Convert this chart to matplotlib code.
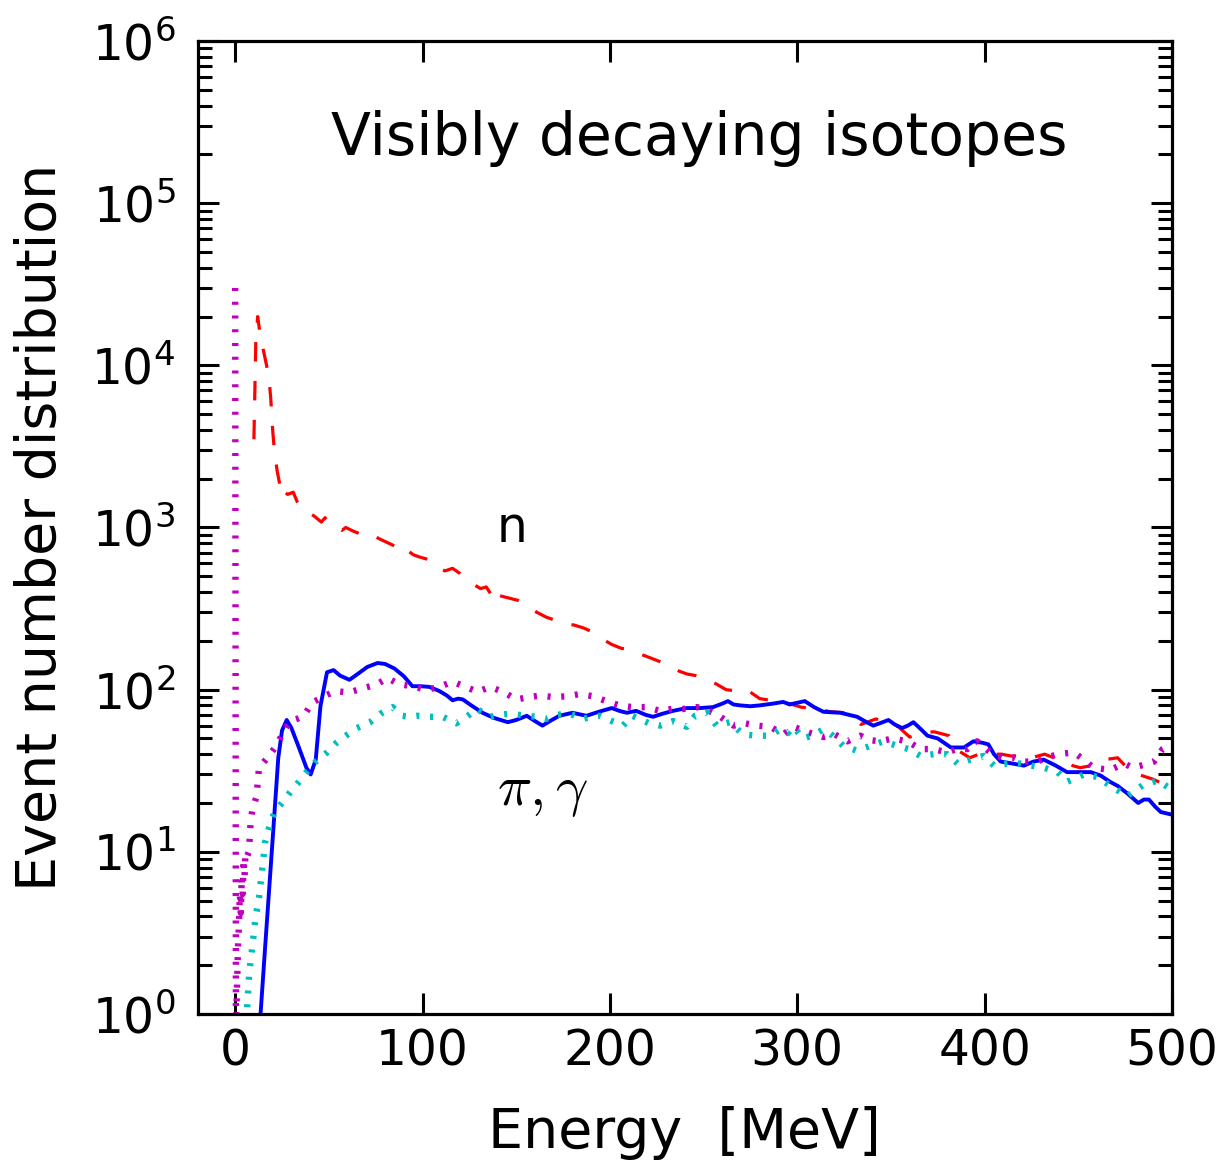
import numpy as np
import matplotlib
matplotlib.use("Agg")
import matplotlib.pyplot as plt
from matplotlib.ticker import LogLocator, NullFormatter, FixedLocator

plt.rcParams['lines.scale_dashes'] = False
plt.rcParams['font.family'] = ['DejaVu Sans']

# ---------------- data ----------------
neutron_E = [10, 11, 12, 13.5, 16, 18, 19, 20, 21, 22.5, 24, 25.5, 26.5, 28, 31, 33, 35,
             38, 42, 44, 46, 48, 50, 55, 57, 59, 63, 68, 71, 73, 78, 82, 86, 88, 90, 95,
             98, 102, 106, 109, 112, 116, 120, 124, 128, 131, 134, 137, 139, 141, 145,
             151, 156, 161, 166, 172, 177, 181, 186, 191, 196, 201, 206, 212, 216, 221,
             226, 232, 237, 241, 246, 252, 257, 262, 268, 273, 277, 280, 286, 292, 296,
             302, 310, 318, 326, 334, 342, 348, 354, 360, 366, 373, 381, 386, 389, 392,
             397, 403, 409, 414, 420, 425, 432, 437, 442, 447, 451, 457, 464, 471, 476,
             482, 490, 496, 500]
neutron_N = [3500, 14000, 20000, 15000, 11000, 8500, 6200, 4000, 2900, 2200, 1800, 1550,
             1650, 1600, 1650, 1450, 1330, 1250, 1180, 1130, 1080, 1150, 1060, 1000, 960,
             1000, 950, 900, 880, 900, 840, 800, 760, 720, 750, 680, 660, 640, 610, 560,
             540, 560, 520, 470, 440, 420, 430, 380, 420, 380, 370, 355, 330, 300, 280,
             265, 255, 250, 240, 226, 205, 190, 180, 175, 166, 158, 150, 140, 130, 125,
             122, 116, 108, 100, 98, 100, 93, 88, 86, 83, 82, 78, 76, 73, 72, 61, 66, 62,
             59, 51, 54, 55, 52, 42, 40, 38, 40, 40, 40, 39, 39, 38, 40, 38, 36, 34, 33,
             34, 37, 38, 33, 30, 28, 26, 23]

pion_E = [12, 16, 20, 23, 25, 27.5, 30, 34, 38, 40.3, 43, 45.5, 49, 52.5, 56, 61, 65,
          70.5, 76, 80, 85, 90, 94.6, 99, 103.7, 109, 113, 116, 119, 121.5, 126, 132,
          138, 145.5, 150, 155.6, 160, 164, 168, 173, 180, 187.5, 194, 201, 205, 209,
          214, 219, 223, 228, 233.7, 241, 248, 255, 260, 263, 266, 269.5, 275, 280,
          287, 292.5, 296, 300, 304, 309, 314, 323, 332, 337, 340.6, 344, 348.7, 352,
          356, 359, 362, 366, 369.5, 375, 382, 389, 394, 399, 402, 405, 408.6, 415,
          421, 426, 431.6, 438, 444, 451, 456.7, 462, 467, 471, 476, 482, 485, 487.7,
          491, 494, 499.5]
pion_N = [0.55, 2.6, 12, 38, 56, 65, 58, 44, 33, 30, 37, 79, 128, 132, 122, 115, 124,
          138, 146, 144, 135, 121, 105, 105, 104, 98, 92, 86, 88, 87, 80, 72, 67, 63,
          65, 69, 64, 60, 64, 69, 72, 69, 73, 77, 74, 72, 74, 70, 68, 71, 74, 77, 77,
          78, 82, 85, 81, 80, 79, 80, 82, 84, 81, 83, 85, 78, 73, 72, 68, 63, 60, 62,
          65, 61, 58, 60, 63, 57, 52, 50, 44, 44, 48, 47, 46, 40, 36, 35, 34, 36, 37,
          34, 31, 31, 31, 29.5, 27, 25.5, 23, 20, 21, 21, 19, 17.6, 17]

gamma_E = [6.4, 7.5, 9, 10.7, 12.8, 14.4, 16, 18, 21, 25, 29.4, 34, 38, 43, 49, 54, 58,
           65, 72, 77.5, 84, 89, 93, 97, 103.7, 110.7, 118, 123.5, 129, 136, 141, 146.5,
           151, 155.6, 161, 166, 172, 178.6, 185.6, 190, 194.7, 201, 207, 212, 217, 221,
           226.7, 233.7, 241, 245.5, 251.8, 257, 264, 271, 278.6, 285.6, 291, 295, 298,
           303, 308, 314, 319, 324.6, 332, 339, 346, 353.5, 359.4, 365.8, 372.7, 380,
           385.6, 392.5, 399.5, 405, 412, 419, 425, 431.6, 439, 444, 453, 460, 467, 476,
           485, 492.5, 498, 500]
gamma_N = [1.1, 1.8, 2.5, 3.8, 5.3, 7.8, 11.5, 14, 17.6, 20, 23.4, 27, 31, 36, 41, 47,
           51, 58, 63, 71, 78, 69, 68, 69, 68, 68, 62, 68, 76, 68, 70, 71, 70, 69, 68, 66,
           70, 71, 66, 68, 69, 64, 60, 69, 65, 62, 60, 64, 59, 69, 72, 60, 63, 53, 52,
           52, 57, 54, 59, 50, 52, 57, 52, 45, 42, 45, 48, 45, 43, 39, 40, 40, 35, 37, 39,
           34, 35, 35, 34, 33, 31, 27, 30, 29, 25.6, 22, 26, 27.5, 25, 23]

other_E = [0, 0.4, 1, 1.5, 2, 2.5, 3, 3.5, 4, 4.5, 5, 5.5, 6.5, 7.3, 7.8, 8.2, 9.1,
           11.4, 12.7, 18, 22.5, 26, 29.4, 33, 36.7, 41, 47.4, 53.5, 60.8, 68, 75, 81.3,
           87.5, 94.7, 101.6, 108, 116, 122, 129.5, 136, 143, 150, 157, 163, 169.6, 177,
           184, 191, 198, 205, 212, 219.6, 226.7, 233, 239, 246.5, 252, 259, 266, 272,
           278.6, 285.6, 292.6, 298, 307, 314, 320, 326.7, 333.7, 338, 344, 351, 358.8,
           365.8, 372.7, 380, 385, 390.8, 396, 403, 410, 416, 421, 428, 433, 439, 447.6,
           453, 458, 467, 474.5, 479, 483.4, 490.4, 495, 500]
other_N = [30000, 0.8, 1.5, 2.6, 3.5, 5.5, 4.2, 7, 5.5, 9, 7, 10, 9.5, 10, 12.4, 15, 18,
           22, 33, 39, 46, 56, 64, 66, 69, 83, 91, 98, 96, 102, 107, 118, 108, 105, 100,
           103, 112, 105, 97, 104, 97, 87, 90, 92, 90, 91, 94, 91, 85, 80, 78, 78, 74, 76,
           76, 78, 75, 68, 60, 62, 60, 59, 53, 59, 54, 51, 53, 48, 52, 49, 48, 50, 48, 43,
           43, 41, 43, 43, 48, 41, 38, 38, 36, 36, 38, 40, 41, 37, 33, 32, 35, 33, 34, 36,
           43, 46]

x_ticks = [0, 100, 200, 300, 400, 500]

# ---------------- figure ----------------
fig = plt.figure(figsize=(12.25, 11.66), dpi=100)
ax = fig.add_axes([0.1614, 0.1304, 0.7953, 0.8344])

ax.plot(neutron_E, neutron_N, color='r', lw=2.3, dashes=(14, 14), solid_joinstyle='round')
ax.plot(pion_E, pion_N, color='b', lw=2.8, solid_joinstyle='round')
ax.plot(other_E, other_N, color='m', lw=4.6, dashes=(2.2, 7.7))
ax.plot(gamma_E, gamma_N, color='c', lw=4.6, dashes=(2.2, 7.7))

ax.set_yscale('log')
ax.set_xlim(-20, 500)
ax.set_ylim(1, 1e6)
ax.xaxis.set_major_locator(FixedLocator(x_ticks))
ax.yaxis.set_major_locator(LogLocator(base=10, numticks=20))
ax.yaxis.set_minor_locator(LogLocator(base=10, subs=np.arange(2, 10), numticks=20))
ax.yaxis.set_minor_formatter(NullFormatter())

ax.tick_params(which='both', direction='in', top=True, right=True, width=2.2,
               labelsize=35)
ax.tick_params(which='major', length=15)
ax.tick_params(which='minor', length=10)
ax.tick_params(axis='x', which='major', pad=10)
ax.tick_params(axis='y', which='major', pad=16)
for s in ax.spines.values():
    s.set_linewidth(2.3)

ax.set_xlabel('Energy  [MeV]', fontsize=40, labelpad=22)
ax.set_ylabel('Event number distribution', fontsize=40, labelpad=17)

ax.text(0.5145, 0.883, 'Visibly decaying isotopes', transform=ax.transAxes,
        fontsize=42, ha='center', va='baseline')
ax.text(0.323, 0.485, 'n', transform=ax.transAxes, fontsize=35, ha='center',
        va='baseline')
ax.text(0.354, 0.215, r'$\pi, \gamma$', transform=ax.transAxes, fontsize=41,
        ha='center', va='baseline', math_fontfamily='cm')

fig.savefig('out.png', dpi=100)
